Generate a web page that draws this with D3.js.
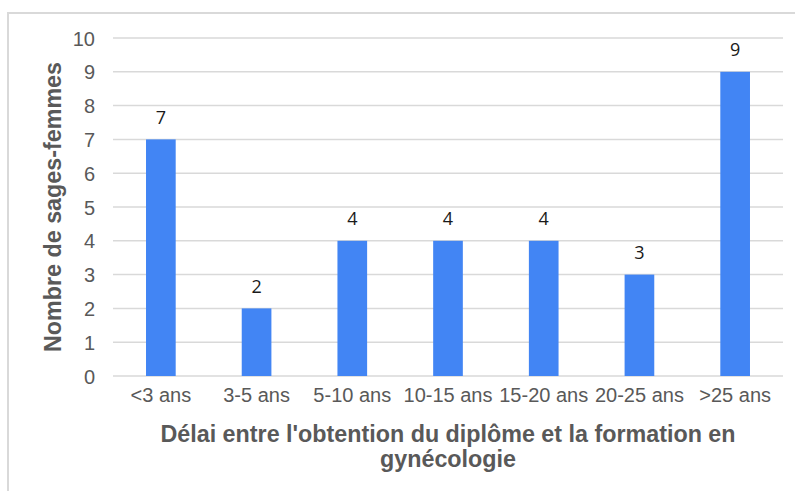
<!DOCTYPE html>
<html>
  <head>
    <meta charset='utf-8' />
    <title>Délai entre diplôme et formation</title>
    <style>
      body { margin: 0; background: white; }
      .tick text { font-family: "Liberation Sans", Arial, sans-serif; font-size: 20px; fill: #595959; }
      .axisTitle { font-family: "Liberation Sans", Arial, sans-serif; font-size: 23.3px; font-weight: bold; fill: #595959; }
      .valueLabel { font-family: "Open Sans", "DejaVu Sans", sans-serif; font-size: 18px; fill: #1a1a1a; }
    </style>
  </head>
<body>
  <svg id="chart" width="795" height="491"></svg>
  <script src="https://cdn.jsdelivr.net/npm/d3@7"></script>
  <script>
    const categories = ["<3 ans", "3-5 ans", "5-10 ans", "10-15 ans", "15-20 ans", "20-25 ans", ">25 ans"];
    const counts = [7, 2, 4, 4, 4, 3, 9];
    const yTicks = [0, 1, 2, 3, 4, 5, 6, 7, 8, 9, 10];

    const svg = d3.select("#chart");
    const plotLeft = 113, plotRight = 783, plotTop = 38, plotBottom = 376;

    // outer frame, only left and top edges show
    svg.append("path")
      .attr("d", "M8,491 L8,13 L795,13")
      .attr("fill", "none")
      .attr("stroke", "#d9d9d9")
      .attr("stroke-width", 2);

    const x = d3.scaleBand()
      .domain(categories)
      .range([plotLeft, plotRight])
      .paddingInner(0.69)
      .paddingOuter(0.345);

    const y = d3.scaleLinear()
      .domain([0, 10])
      .range([plotBottom, plotTop]);

    // gridlines
    svg.append("g")
      .selectAll("line")
      .data(yTicks)
      .enter()
      .append("line")
      .attr("x1", plotLeft)
      .attr("x2", plotRight)
      .attr("y1", d => y(d))
      .attr("y2", d => y(d))
      .attr("stroke", "#d9d9d9")
      .attr("stroke-width", 1.5);

    const yAxis = d3.axisLeft(y).tickValues(yTicks).tickSize(0).tickPadding(0);
    const yG = svg.append("g")
      .attr("transform", "translate(95,0)")
      .call(yAxis);
    yG.select(".domain").remove();
    yG.selectAll(".tick text").attr("dy", "0.35em");

    const xAxis = d3.axisBottom(x).tickSize(0).tickPadding(0);
    const xG = svg.append("g")
      .attr("transform", "translate(0,402)")
      .call(xAxis);
    xG.select(".domain").remove();
    xG.selectAll(".tick text").attr("dy", "0");

    svg.append("g")
      .selectAll("rect")
      .data(counts)
      .enter()
      .append("rect")
      .attr("x", (d, i) => x(categories[i]))
      .attr("y", d => y(d))
      .attr("width", x.bandwidth())
      .attr("height", d => y(0) - y(d))
      .attr("fill", "#4285f4");

    svg.append("g")
      .selectAll("text")
      .data(counts)
      .enter()
      .append("text")
      .attr("class", "valueLabel")
      .attr("x", (d, i) => x(categories[i]) + x.bandwidth() / 2)
      .attr("y", d => y(d) - 15.5)
      .attr("text-anchor", "middle")
      .text(d => d);

    const xTitle = svg.append("text")
      .attr("class", "axisTitle")
      .attr("text-anchor", "middle");
    xTitle.append("tspan").attr("x", 448).attr("y", 442)
      .text("Délai entre l'obtention du diplôme et la formation en");
    xTitle.append("tspan").attr("x", 448).attr("y", 467)
      .text("gynécologie");

    svg.append("text")
      .attr("class", "axisTitle")
      .attr("text-anchor", "middle")
      .attr("transform", "translate(61," + ((plotTop + plotBottom) / 2) + ") rotate(-90)")
      .text("Nombre de sages-femmes");
  </script>
</body>
</html>
